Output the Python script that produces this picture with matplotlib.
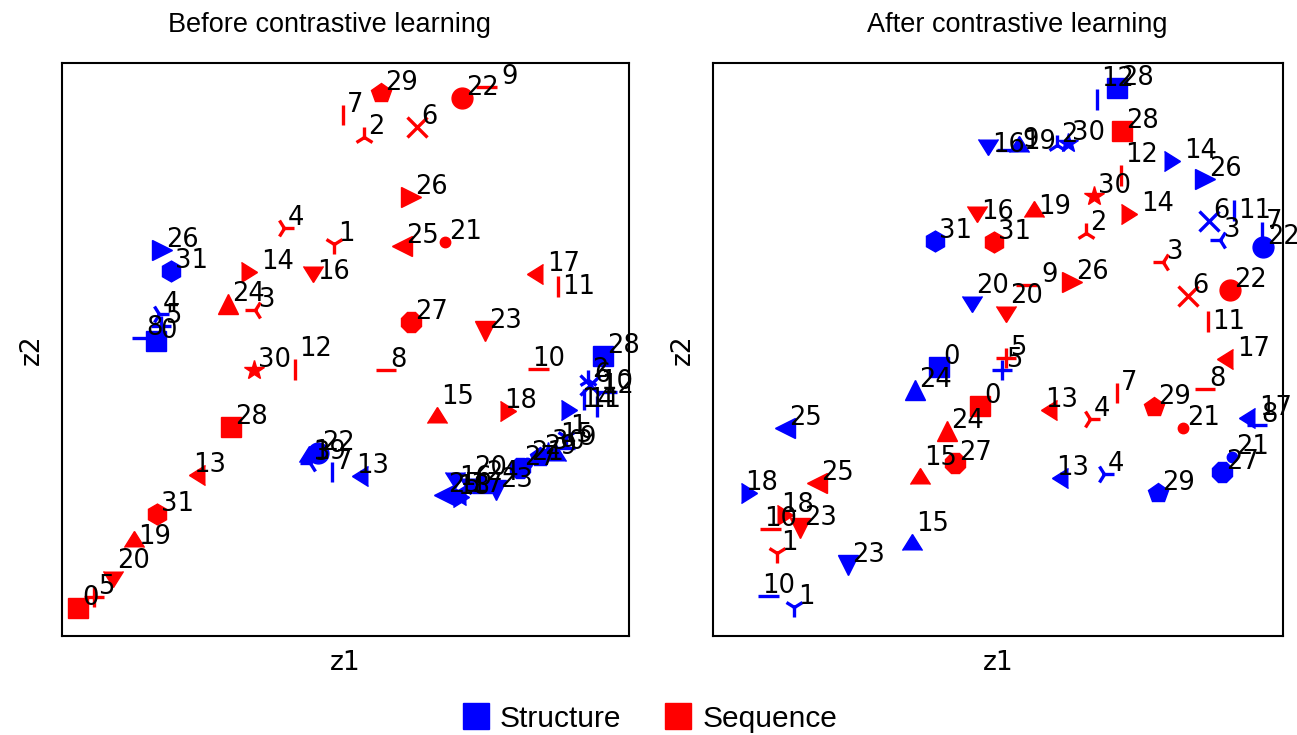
import numpy as np
import matplotlib
matplotlib.use('Agg')
import matplotlib.pyplot as plt
from matplotlib.lines import Line2D

# marker for each of the 32 samples (shared by both modalities)
markers = ['s', '1', '2', '3', '4', '+', 'x', '|', '_', 0, 1, 2, 3, 4, 5, 6,
           7, 8, 9, 10, 11, '.', 'o', 'v', '^', '<', '>', '8', 's', 'p', '*', 'h']

# Before contrastive learning
before_seq_z1 = [16, 272, 302, 193, 222, 32, 355, 281, 324, 435, 466, 496, 233, 127, 195, 375,
                 251, 481, 438, 72, 51, 383, 400, 423, 166, 340, 349, 349, 169, 319, 192, 95]
before_seq_z2 = [28, 392, 499, 326, 408, 39, 509, 521, 266, 549, 267, 339, 277, 161, 364, 229,
                 354, 362, 225, 89, 65, 394, 538, 305, 332, 390, 439, 314, 209, 543, 266, 122]
before_str_z1 = [94, 504, 526, 248, 97, 99, 528, 270, 80, 513, 534, 522, 535, 290, 515, 494,
                 393, 404, 391, 247, 408, 465, 256, 434, 420, 382, 100, 458, 541, 478, 486, 109]
before_str_z2 = [295, 199, 256, 173, 322, 310, 251, 164, 298, 188, 244, 226, 240, 160, 226, 191,
                 148, 141, 139, 174, 158, 173, 183, 146, 153, 141, 386, 168, 280, 179, 184, 365]

# After contrastive learning
after_seq_z1 = [267, 64, 373, 450, 377, 293, 475, 404, 492, 324, 47, 495, 408, 328, 424, 207,
                264, 520, 64, 321, 293, 470, 517, 87, 234, 104, 359, 242, 409, 441, 381, 281]
after_seq_z2 = [230, 83, 403, 374, 217, 278, 340, 243, 247, 351, 107, 304, 471, 226, 422, 168,
                414, 277, 121, 419, 330, 208, 346, 108, 205, 153, 354, 173, 505, 229, 440, 394]
after_str_z1 = [226, 81, 344, 507, 391, 289, 496, 549, 544, 305, 45, 521, 384, 339, 467, 199,
                275, 542, 28, 306, 259, 519, 550, 135, 202, 72, 492, 509, 404, 445, 355, 222]
after_str_z2 = [269, 29, 491, 396, 162, 266, 415, 404, 211, 486, 40, 415, 547, 158, 475, 102,
                481, 218, 143, 484, 340, 179, 389, 71, 246, 208, 457, 164, 548, 143, 493, 395]

line_markers = ['1', '2', '3', '4', '+', 'x', '|', '_', 0, 1, 2, 3]


def draw_panel(ax, sx, sy, qx, qy, xmax, ymax):
    for xs, ys, col in [(sx, sy, 'blue'), (qx, qy, 'red')]:
        for i in range(len(xs)):
            m = markers[i]
            mew = 2.4 if m in line_markers else 1.0
            ax.plot(xs[i], ys[i], marker=m, color=col, markersize=15,
                    markeredgewidth=mew, linestyle='none')
            ax.annotate(str(i), (xs[i], ys[i]), xytext=(3, 2),
                        textcoords='offset points', fontsize=18.5)
    ax.set_xlim(0, xmax)
    ax.set_ylim(0, ymax)
    ax.set_xticks([])
    ax.set_yticks([])
    for s in ax.spines.values():
        s.set_linewidth(1.5)
    ax.set_xlabel('z1', fontsize=19, labelpad=10)
    ax.set_ylabel('z2', fontsize=19, labelpad=12)


fig = plt.figure(figsize=(12.97, 7.35), dpi=100)
ax1 = fig.add_axes([0.0478, 0.1347, 0.4372, 0.7796])
ax2 = fig.add_axes([0.5497, 0.1347, 0.4395, 0.7796])

draw_panel(ax1, before_str_z1, before_str_z2, before_seq_z1, before_seq_z2, 567, 573)
draw_panel(ax2, after_str_z1, after_str_z2, after_seq_z1, after_seq_z2, 570, 573)

fig.text(0.254, 0.966, 'Before contrastive learning', ha='center', va='center',
         fontsize=19.5, family='Liberation Sans')
fig.text(0.784, 0.966, 'After contrastive learning', ha='center', va='center',
         fontsize=19.5, family='Liberation Sans')

handles = [Line2D([], [], marker='s', color='blue', linestyle='none', markersize=19),
           Line2D([], [], marker='s', color='red', linestyle='none', markersize=19)]
fig.legend(handles, ['Structure', 'Sequence'], loc='center', bbox_to_anchor=(0.5005, 0.022),
           ncol=2, frameon=False, prop={'family': 'Liberation Sans', 'size': 21.5},
           handlelength=1.0, handletextpad=0.3, columnspacing=1.4)

fig.savefig('out.png', dpi=100)
